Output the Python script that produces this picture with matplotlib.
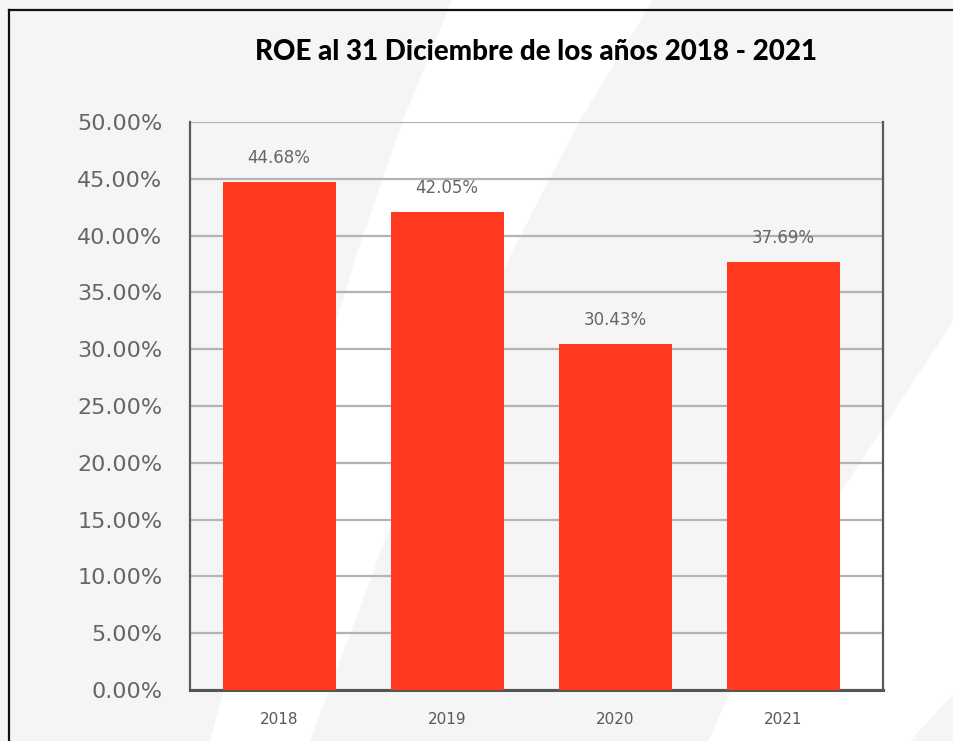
import matplotlib.pyplot as plt
from matplotlib.patches import Polygon
from matplotlib.lines import Line2D
from matplotlib.ticker import FuncFormatter

years = ['2018', '2019', '2020', '2021']
roe = [0.4468, 0.4205, 0.3043, 0.3769]
roe_labels = ['44.68%', '42.05%', '30.43%', '37.69%']
y_ticks = [i * 0.05 for i in range(11)]

W, H = 954, 741
fig = plt.figure(figsize=(W / 100, H / 100), dpi=100)
fig.patch.set_facecolor('#f5f5f5')


def px(pts):
    # image pixel coords (from top-left) -> figure fraction
    return [(x / W, 1 - y / H) for x, y in pts]


# white diagonal bands in the background
band1 = [(452, 0), (403, 120), (358, 250), (223, 693), (210, 741),
         (310, 741), (363, 600), (381, 550), (513, 250), (580, 120), (653, 0)]
band2 = [(954, 320), (840, 493), (730, 693), (708, 741),
         (910, 741), (954, 693)]
for b in (band1, band2):
    fig.patches.append(Polygon(px(b), closed=True, transform=fig.transFigure,
                               facecolor='white', edgecolor='none', zorder=-10))

# black frame on left and top
fig.add_artist(Line2D([9 / W, 9 / W], [0, 1 - 10 / H], transform=fig.transFigure,
                      color='#111111', lw=1.6, zorder=-5))
fig.add_artist(Line2D([9 / W, 1], [1 - 10 / H, 1 - 10 / H], transform=fig.transFigure,
                      color='#111111', lw=1.6, zorder=-5))

ax = fig.add_axes([190 / W, 51 / H, 693 / W, 568 / H])
ax.set_facecolor('none')

x = list(range(len(years)))
ax.bar(x, roe, width=0.673, color='#ff3a21', zorder=3)

for xi, v, lab in zip(x, roe, roe_labels):
    ax.annotate(lab, (xi, v), xytext=(0, 11), textcoords='offset points',
                ha='center', va='bottom', fontsize=12, color='#666666')

ax.set_xlim(-0.53, 3.595)
ax.set_ylim(0, 0.5)
ax.set_yticks(y_ticks)
ax.yaxis.set_major_formatter(FuncFormatter(lambda v, p: f'{v * 100:.2f}%'))
ax.set_xticks(x)
ax.set_xticklabels(years)
ax.tick_params(axis='y', length=0, pad=20, labelsize=16, labelcolor='#666666')
ax.tick_params(axis='x', length=0, pad=16, labelsize=11, labelcolor='#595959')

ax.grid(axis='y', color='#b3b3b3', lw=1.6, zorder=1)
ax.set_axisbelow(True)

for s in ['left', 'right']:
    ax.spines[s].set_color('#5a5a5a')
    ax.spines[s].set_linewidth(1.6)
ax.spines['bottom'].set_color('#555555')
ax.spines['bottom'].set_linewidth(2.2)
ax.spines['top'].set_visible(False)

fig.text(536.5 / W, 1 - 52 / H, 'ROE al 31 Diciembre de los años 2018 - 2021',
         ha='center', va='center', fontsize=20, fontweight='black',
         family='Lato', color='black')

fig.savefig('out.png', dpi=100, facecolor=fig.get_facecolor())
